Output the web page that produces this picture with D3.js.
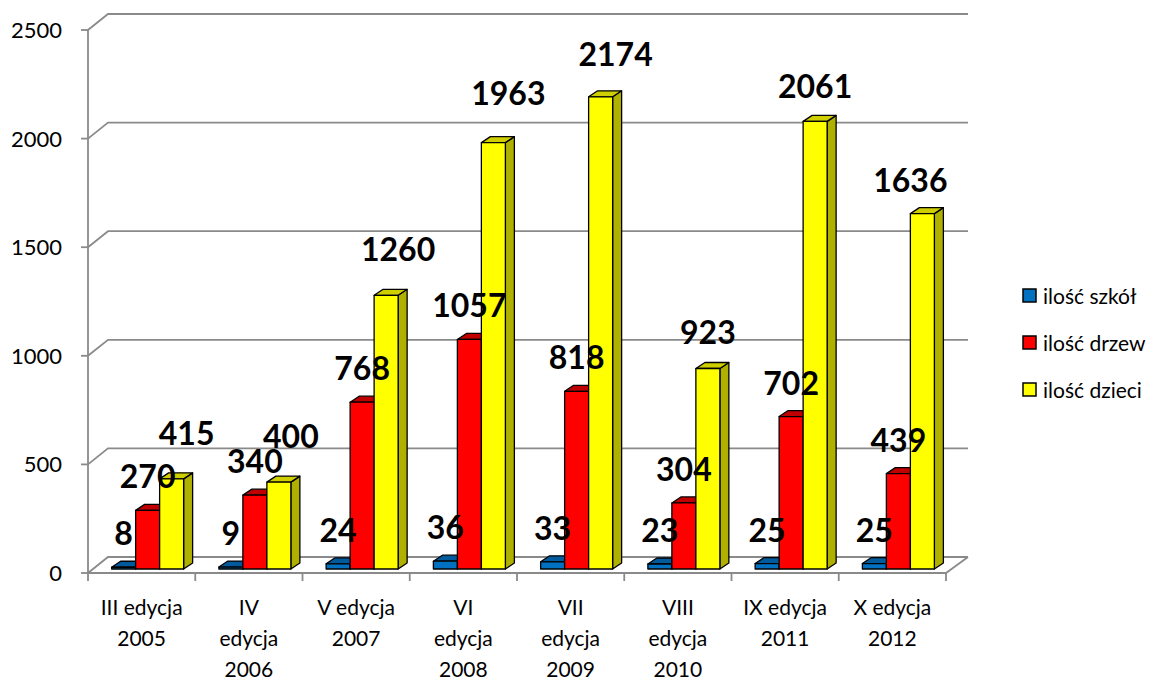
<!DOCTYPE html>
<html lang="pl">
<head>
    <meta charset="UTF-8">
    <title>Edycje</title>
    <script src="https://cdnjs.cloudflare.com/ajax/libs/d3/7.8.5/d3.min.js"></script>
    <style>
        body { margin: 0; background: #fff; }
        svg text { font-family: Lato, "Open Sans", sans-serif; fill: #000; }
    </style>
</head>
<body>
<div id="chart"></div>
<script>
// data
const categories = ["III edycja 2005", "IV edycja 2006", "V edycja 2007", "VI edycja 2008",
                    "VII edycja 2009", "VIII edycja 2010", "IX edycja 2011", "X edycja 2012"];
const categoryLines = [["III edycja", "2005"], ["IV", "edycja", "2006"], ["V edycja", "2007"],
                       ["VI", "edycja", "2008"], ["VII", "edycja", "2009"], ["VIII", "edycja", "2010"],
                       ["IX edycja", "2011"], ["X edycja", "2012"]];
const seriesNames = ["ilość szkół", "ilość drzew", "ilość dzieci"];
const szkoly = [8, 9, 24, 36, 33, 23, 25, 25];
const drzewa = [270, 340, 768, 1057, 818, 304, 702, 439];
const dzieci = [415, 400, 1260, 1963, 2174, 923, 2061, 1636];
const yTicks = [0, 500, 1000, 1500, 2000, 2500];

const W = 1166, H = 682;
const plotL = 88, plotR = 946, plotB = 573, plotT = 30;
const wallDx = 20, wallDy = -16;      // back wall offset
const barDx = 6, barDy = -4;          // bar plane offset
const depthDx = 9, depthDy = -6;      // bar thickness

// excel moved the yellow labels about, roughly copied here
const yellowNudgeX = [15, 12, 12, 15, 15, 0, 0, -12];
const yellowGap = [34, 34, 34, 38, 31, 25, 23, 22];

const colors = [
    {front: "#0070C0", side: "#004B82", top: "#005A9C"},
    {front: "#FF0000", side: "#A00000", top: "#C00000"},
    {front: "#FFFF00", side: "#B0B000", top: "#CFCF00"}
];

const svg = d3.select("#chart").append("svg")
    .attr("width", W).attr("height", H);

const y = d3.scaleLinear().domain([0, 2500]).range([plotB, plotT]);
const x = d3.scaleBand().domain(categories).range([plotL, plotR]);
const xs = d3.scaleBand().domain(seriesNames).range([0, 72]);
const groupOff = (x.bandwidth() - 72) / 2 + barDx;

const grid = svg.append("g").attr("stroke", "#8a8a8a").attr("stroke-width", 1.8).attr("fill", "none");

// back wall gridlines with the slanted joins to the front axis
yTicks.forEach(v => {
    grid.append("path")
        .attr("d", `M${plotL},${y(v)} L${plotL + wallDx},${y(v) + wallDy} L${plotR + 22},${y(v) + wallDy}`);
    grid.append("line")
        .attr("x1", plotL - 7).attr("x2", plotL)
        .attr("y1", y(v)).attr("y2", y(v));
});
// floor
grid.append("path")
    .attr("d", `M${plotL},${plotB} L${plotR},${plotB} L${plotR + 22},${plotB + wallDy}`);
// front axis
grid.append("line")
    .attr("x1", plotL).attr("x2", plotL)
    .attr("y1", y(2500)).attr("y2", plotB);
// category ticks
d3.range(categories.length + 1).forEach(i => {
    const xx = plotL + i * x.step();
    grid.append("line").attr("x1", xx).attr("x2", xx).attr("y1", plotB).attr("y2", plotB + 8);
});

// y tick labels
svg.append("g").selectAll("text")
    .data(yTicks)
    .enter().append("text")
    .attr("x", 62)
    .attr("y", d => y(d))
    .attr("dy", "0.36em")
    .attr("text-anchor", "end")
    .style("font-size", "22px")
    .text(d => d);

// x labels
const xl = svg.append("g");
categories.forEach((c, i) => {
    const t = xl.append("text")
        .attr("text-anchor", "middle")
        .style("font-size", "21px");
    categoryLines[i].forEach((ln, j) => {
        t.append("tspan")
            .attr("x", x(c) + x.bandwidth() / 2)
            .attr("y", 615 + j * 31)
            .text(ln);
    });
});

// bars
const allSeries = [szkoly, drzewa, dzieci];
const bars = svg.append("g").attr("stroke", "#000").attr("stroke-width", 1.3).attr("stroke-linejoin", "round");
const yb = v => y(v) + barDy;

categories.forEach((c, i) => {
    allSeries.forEach((vals, s) => {
        const v = vals[i];
        const x0 = x(c) + groupOff + xs(seriesNames[s]);
        const w = xs.bandwidth();
        const yt = yb(v), y0 = yb(0);
        bars.append("path")
            .attr("fill", colors[s].side)
            .attr("d", `M${x0 + w},${yt} L${x0 + w + depthDx},${yt + depthDy} L${x0 + w + depthDx},${y0 + depthDy} L${x0 + w},${y0} Z`);
        bars.append("path")
            .attr("fill", colors[s].top)
            .attr("d", `M${x0},${yt} L${x0 + depthDx},${yt + depthDy} L${x0 + w + depthDx},${yt + depthDy} L${x0 + w},${yt} Z`);
        bars.append("rect")
            .attr("x", x0).attr("y", yt)
            .attr("width", w).attr("height", y0 - yt)
            .attr("fill", colors[s].front);
    });
});

// value labels
const labels = svg.append("g");
categories.forEach((c, i) => {
    allSeries.forEach((vals, s) => {
        const v = vals[i];
        const cx = x(c) + groupOff + xs(seriesNames[s]) + xs.bandwidth() / 2;
        const dx = s === 2 ? yellowNudgeX[i] : 0;
        const gap = s === 2 ? yellowGap[i] : 22;
        labels.append("text")
            .attr("x", cx + dx)
            .attr("y", yb(v) - gap)
            .attr("text-anchor", "middle")
            .style("font-size", "32px")
            .style("font-weight", "bold")
            .text(v);
    });
});

// legend
const legend = svg.append("g");
seriesNames.forEach((n, i) => {
    const ly = 296 + i * 47;
    legend.append("rect")
        .attr("x", 1023).attr("y", ly - 7)
        .attr("width", 13).attr("height", 13)
        .attr("fill", colors[i].front)
        .attr("stroke", "#000").attr("stroke-width", 1.5);
    legend.append("text")
        .attr("x", 1043).attr("y", ly)
        .attr("dy", "0.36em")
        .style("font-size", "21px")
        .text(n);
});
</script>
</body>
</html>
